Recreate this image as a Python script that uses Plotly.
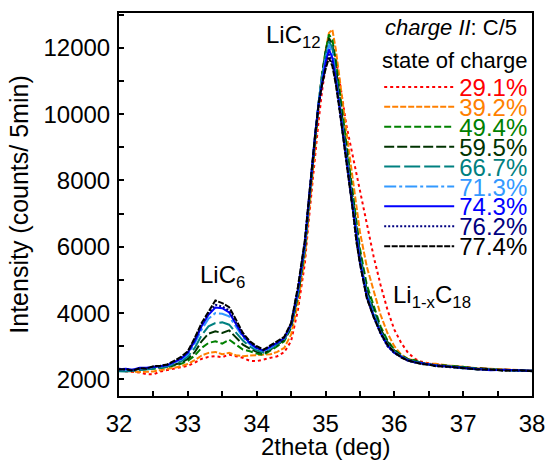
import plotly.graph_objects as go

two_theta = [32.0, 32.1, 32.2, 32.3, 32.4, 32.5, 32.6, 32.7, 32.8, 32.9,
             33.0, 33.1, 33.2, 33.3, 33.4, 33.5, 33.6, 33.7, 33.8, 33.9,
             34.0, 34.1, 34.2, 34.3, 34.4, 34.5, 34.6,
             34.7, 34.75, 34.8, 34.85, 34.9, 34.95, 35.0, 35.05, 35.1, 35.15,
             35.2, 35.25, 35.3, 35.35, 35.4, 35.45, 35.5,
             35.6, 35.7, 35.8, 35.9, 36.0, 36.1, 36.2, 36.3, 36.4, 36.5, 36.6,
             36.8, 37.0, 37.2, 37.4, 37.6, 37.8, 38.0]

soc_labels = ["29.1%", "39.2%", "49.4%", "59.5%", "66.7%", "71.3%", "74.3%", "76.2%", "77.4%"]

i_291 = [2260, 2250, 2230, 2210, 2160, 2150, 2240, 2280, 2310, 2350,
         2410, 2500, 2620, 2680, 2700, 2670, 2750, 2700, 2650, 2560,
         2550, 2600, 2640, 2700, 2820, 3150, 4100,
         5500, 6650, 7750, 8800, 9800, 10700, 11400, 11900, 12050, 11700,
         11100, 10400, 9700, 9200, 8700, 8200, 7700,
         6650, 5700, 4850, 4100, 3500, 3100, 2800, 2620, 2530, 2480, 2450,
         2400, 2360, 2340, 2310, 2300, 2280, 2260]
i_392 = [2270, 2250, 2240, 2220, 2230, 2240, 2280, 2310, 2350, 2400,
         2470, 2580, 2720, 2800, 2830, 2760, 2800, 2730, 2700, 2720,
         2730, 2730, 2760, 2830, 2950, 3350, 4300,
         5700, 6850, 8000, 9100, 10150, 11100, 11900, 12450, 12550, 11950,
         11200, 10400, 9550, 8750, 7950, 7150, 6450,
         5400, 4650, 3950, 3400, 3000, 2750, 2620, 2560, 2500, 2470, 2470,
         2420, 2370, 2340, 2320, 2300, 2290, 2270]
i_494 = [2280, 2290, 2270, 2300, 2310, 2320, 2340, 2370, 2420, 2470,
         2560, 2720, 2950, 3100, 3150, 3080, 3200, 3050, 2900, 2850,
         2780, 2740, 2860, 3000, 3150, 3550, 4500,
         5900, 7050, 8200, 9250, 10300, 11200, 11900, 12400, 12250, 11600,
         10800, 10000, 9150, 8300, 7500, 6650, 5950,
         4850, 4200, 3600, 3180, 2900, 2730, 2610, 2580, 2480, 2450, 2440,
         2420, 2380, 2310, 2310, 2290, 2280, 2260]
i_595 = [2300, 2280, 2290, 2310, 2330, 2350, 2370, 2380, 2440, 2500,
         2620, 2820, 3150, 3380, 3450, 3400, 3480, 3280, 3050, 2930,
         2830, 2790, 2900, 3040, 3190, 3600, 4550,
         5950, 7100, 8250, 9300, 10350, 11200, 11850, 12300, 12100, 11400,
         10600, 9800, 8950, 8150, 7350, 6500, 5800,
         4700, 4100, 3520, 3130, 2870, 2710, 2600, 2550, 2500, 2460, 2430,
         2400, 2360, 2320, 2300, 2280, 2270, 2260]
i_667 = [2250, 2240, 2260, 2280, 2300, 2330, 2350, 2390, 2460, 2540,
         2690, 2950, 3330, 3600, 3700, 3720, 3650, 3420, 3170, 2990,
         2880, 2810, 2920, 3060, 3210, 3620, 4600,
         6000, 7150, 8300, 9350, 10350, 11150, 11750, 12200, 12000, 11250,
         10450, 9650, 8850, 8050, 7250, 6400, 5700,
         4620, 4000, 3450, 3080, 2840, 2700, 2590, 2530, 2490, 2450, 2420,
         2390, 2350, 2310, 2290, 2280, 2260, 2270]
i_713 = [2300, 2290, 2270, 2320, 2330, 2360, 2390, 2420, 2500, 2590,
         2760, 3080, 3500, 3830, 4000, 3980, 3900, 3600, 3270, 3060,
         2920, 2850, 2960, 3100, 3230, 3640, 4650,
         6050, 7200, 8350, 9400, 10350, 11100, 11650, 12100, 11850, 11100,
         10350, 9550, 8750, 7950, 7150, 6300, 5600,
         4550, 3950, 3420, 3050, 2820, 2690, 2580, 2520, 2480, 2460, 2420,
         2390, 2330, 2310, 2300, 2280, 2270, 2250]
i_743 = [2310, 2320, 2290, 2350, 2350, 2380, 2420, 2430, 2520, 2620,
         2800, 3150, 3600, 3950, 4170, 4150, 4020, 3680, 3320, 3100,
         2950, 2870, 2980, 3110, 3250, 3660, 4700,
         6100, 7250, 8350, 9400, 10300, 11000, 11550, 11950, 11700, 11050,
         10250, 9500, 8700, 7900, 7100, 6200, 5550,
         4500, 3900, 3400, 3020, 2800, 2680, 2570, 2520, 2480, 2450, 2420,
         2380, 2340, 2320, 2280, 2290, 2270, 2260]
i_762 = [2320, 2300, 2280, 2330, 2340, 2390, 2400, 2440, 2540, 2650,
         2830, 3200, 3650, 4000, 4250, 4200, 4080, 3720, 3350, 3120,
         2960, 2880, 2990, 3120, 3260, 3680, 4750,
         6150, 7250, 8350, 9350, 10250, 10900, 11400, 11800, 11550, 10950,
         10200, 9450, 8650, 7850, 7050, 6150, 5500,
         4470, 3880, 3380, 3000, 2790, 2670, 2560, 2510, 2470, 2440, 2410,
         2370, 2330, 2310, 2290, 2270, 2260, 2250]
i_774 = [2300, 2310, 2260, 2340, 2320, 2400, 2410, 2450, 2560, 2680,
         2850, 3250, 3700, 4050, 4380, 4300, 4180, 3800, 3400, 3150,
         3000, 2900, 3020, 3150, 3280, 3700, 4800,
         6200, 7300, 8400, 9400, 10300, 10900, 11350, 11700, 11450, 10900,
         10200, 9450, 8650, 7850, 7050, 6150, 5500,
         4450, 3880, 3400, 3050, 2820, 2660, 2570, 2520, 2460, 2450, 2400,
         2380, 2330, 2300, 2300, 2260, 2280, 2250]

series = [i_291, i_392, i_494, i_595, i_667, i_713, i_743, i_762, i_774]
colors = ["#FF0000", "#FF8000", "#008000", "#003300", "#008080",
          "#3399FF", "#0000FF", "#000080", "#000000"]
dashes = ["dot", "6px,2px", "7px,3px", "10px,3px", "16px,4px",
          "12px,3px,3px,3px", "solid", "2px,2px", "6px,1.5px"]

FAM = "Liberation Sans, Arial, sans-serif"

fig = go.Figure()
for lab, ys, col, dsh in zip(soc_labels, series, colors, dashes):
    fig.add_trace(go.Scatter(
        x=two_theta, y=ys, mode="lines",
        line=dict(color=col, width=2, dash=dsh),
        name='<span style="color:%s;font-size:24px;baseline-shift:-4px">%s</span>' % (col, lab),
    ))

axis_font = dict(family=FAM, size=24, color="black")

fig.update_layout(
    width=551, height=463,
    margin=dict(l=119, r=19, t=13, b=67, autoexpand=False),
    paper_bgcolor="white", plot_bgcolor="white",
    font=dict(family=FAM, color="black"),
    legend=dict(
        x=0.63, y=0.846, xanchor="left", yanchor="top",
        bgcolor="rgba(0,0,0,0)", borderwidth=0,
        font=dict(size=13, color="black", family=FAM),
        itemwidth=70, maxheight=460,
        tracegroupgap=0,
    ),
    showlegend=True,
)

fig.update_xaxes(
    range=[32, 38], dtick=1, tick0=32,
    ticks="inside", ticklen=5, tickwidth=1.5, tickcolor="black",
    minor=dict(dtick=0.5, ticks="inside", ticklen=5, tickwidth=1.5, tickcolor="black"),
    showline=True, linewidth=2, linecolor="black", mirror=True,
    showgrid=False, zeroline=False,
    tickfont=axis_font, ticklabelstandoff=5,
)
fig.update_yaxes(
    range=[1500, 13050], dtick=2000, tick0=2000, tickformat="d",
    ticks="inside", ticklen=5, tickwidth=1.5, tickcolor="black",
    minor=dict(dtick=1000, ticks="inside", ticklen=5, tickwidth=1.5, tickcolor="black"),
    showline=True, linewidth=2, linecolor="black", mirror=True,
    showgrid=False, zeroline=False,
    tickfont=axis_font, ticklabelstandoff=2,
    title=dict(text="Intensity (counts/ 5min)", font=dict(size=25), standoff=8),
)

fig.add_annotation(x=0.5, y=-0.133, xref="paper", yref="paper", yanchor="middle",
                   text="2theta (deg)", showarrow=False,
                   font=dict(family=FAM, size=24, color="black"))

title_font = dict(family=FAM, size=22, color="black")
fig.add_annotation(x=0.639, y=0.961, xref="paper", yref="paper", xanchor="left", yanchor="middle",
                   text="<i>charge II</i>: C/5", showarrow=False, font=title_font)
fig.add_annotation(x=0.632, y=0.877, xref="paper", yref="paper", xanchor="left", yanchor="middle",
                   text="state of charge", showarrow=False, font=title_font)

annot_font = dict(family=FAM, size=24, color="black")
fig.add_annotation(x=34.54, y=12350, text="LiC<sub>12</sub>", showarrow=False, font=annot_font)
fig.add_annotation(x=33.5, y=5100, text="LiC<sub>6</sub>", showarrow=False, font=annot_font)
fig.add_annotation(x=36.55, y=4500, text="Li<sub>1-x</sub>C<sub>18</sub>", showarrow=False, font=annot_font)

fig.write_html("out.html")
